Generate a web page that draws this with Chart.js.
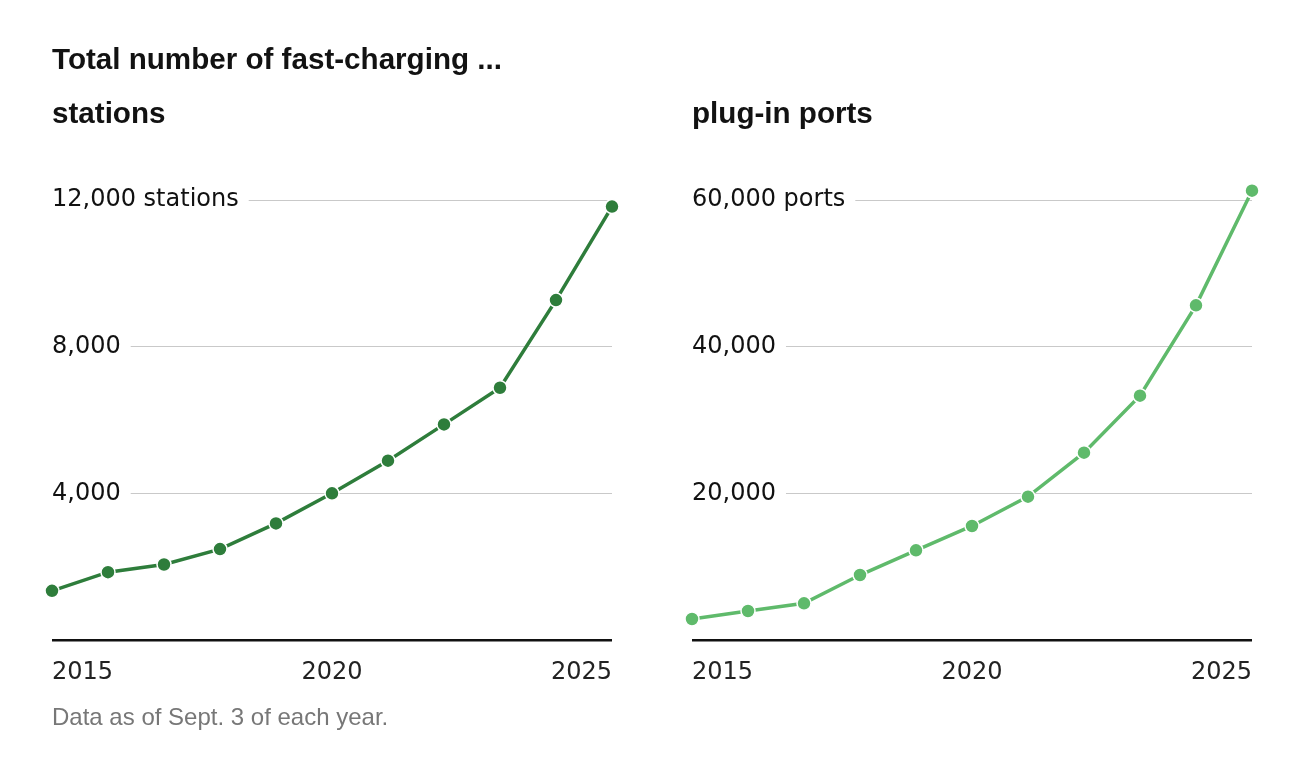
<!DOCTYPE html>
<html>
<head>
<meta charset="utf-8">
<script src="https://cdn.jsdelivr.net/npm/chart.js@4.4.1/dist/chart.umd.min.js"></script>
<style>
html,body{margin:0;padding:0;background:#fff;width:1316px;height:772px;overflow:hidden;}
canvas{position:absolute;top:0;}
#c1{left:0;}
#c2{left:658px;}
.t{position:absolute;z-index:2;font-family:"Liberation Sans",Arial,sans-serif;font-weight:700;font-size:29.6px;line-height:29px;color:#121212;white-space:nowrap;}
.note{position:absolute;z-index:2;left:52px;top:705px;font-family:"Liberation Sans",Arial,sans-serif;font-size:24px;line-height:24px;color:#777;white-space:nowrap;}
</style>
</head>
<body>
<canvas id="c1" width="658" height="772"></canvas>
<canvas id="c2" width="658" height="772"></canvas>
<div class="t" style="left:52px;top:44px;">Total number of fast-charging ...</div>
<div class="t" style="left:52px;top:98px;">stations</div>
<div class="t" style="left:692px;top:98px;">plug-in ports</div>
<div class="note">Data as of Sept. 3 of each year.</div>
<script>
// ---- data ----
const years = [2015, 2016, 2017, 2018, 2019, 2020, 2021, 2022, 2023, 2024, 2025];
const stations = [1340, 1850, 2060, 2480, 3180, 4000, 4890, 5880, 6880, 9270, 11820];
const ports = [2860, 3950, 5000, 8860, 12230, 15550, 19550, 25550, 33320, 45640, 61270];
const xTickValues = [2015, 2020, 2025];
const stationTickValues = [0, 4000, 8000, 12000];
const stationTickLabels = ['', '4,000', '8,000', '12,000 stations'];
const portTickValues = [0, 20000, 40000, 60000];
const portTickLabels = ['', '20,000', '40,000', '60,000 ports'];

function makeChart(id, values, color, yMax, tickVals, tickLabels, pad) {
  return new Chart(document.getElementById(id), {
    type: 'line',
    data: {
      datasets: [{
        data: years.map((y, i) => ({x: y, y: values[i]})),
        borderColor: color,
        borderWidth: 3.5,
        pointRadius: 7,
        pointBackgroundColor: color,
        pointBorderColor: '#ffffff',
        pointBorderWidth: 1.5,
        tension: 0,
        clip: false
      }]
    },
    options: {
      responsive: false,
      animation: false,
      events: [],
      layout: {padding: pad},
      plugins: {legend: {display: false}, tooltip: {enabled: false}},
      scales: {
        x: {
          type: 'linear',
          min: years[0],
          max: years[years.length - 1],
          afterBuildTicks: s => { s.ticks = xTickValues.map(v => ({value: v})); },
          afterFit: s => { s.height = 60; },
          grid: {display: false, drawTicks: false},
          border: {display: false},
          ticks: {
            align: 'inner',
            padding: 18,
            maxRotation: 0,
            autoSkip: false,
            color: '#222',
            font: {family: 'DejaVu Sans', size: 24},
            callback: v => String(v)
          }
        },
        y: {
          type: 'linear',
          min: 0,
          max: yMax,
          afterBuildTicks: s => { s.ticks = tickVals.map(v => ({value: v})); },
          grid: {
            drawTicks: false,
            color: c => (c.tick && c.tick.value === 0) ? '#111' : '#c9c9c9',
            lineWidth: c => (c.tick && c.tick.value === 0) ? 2.5 : 1
          },
          border: {display: false},
          ticks: {
            mirror: true,
            padding: 0,
            color: '#111',
            font: {family: 'DejaVu Sans', size: 24},
            showLabelBackdrop: c => !(c.tick && c.tick.value === 0),
            backdropColor: '#ffffff',
            backdropPadding: {left: 0, right: 10, top: 0, bottom: 0},
            callback: (v) => {
              const i = tickVals.indexOf(v);
              return i >= 0 ? tickLabels[i] : '';
            }
          }
        }
      }
    }
  });
}

makeChart('c1', stations, '#2e7d3b', 12300, stationTickValues, stationTickLabels,
  {left: 52, right: 46, top: 189, bottom: 72});
makeChart('c2', ports, '#5fba6b', 61500, portTickValues, portTickLabels,
  {left: 34, right: 64, top: 189, bottom: 72});
</script>
</body>
</html>
